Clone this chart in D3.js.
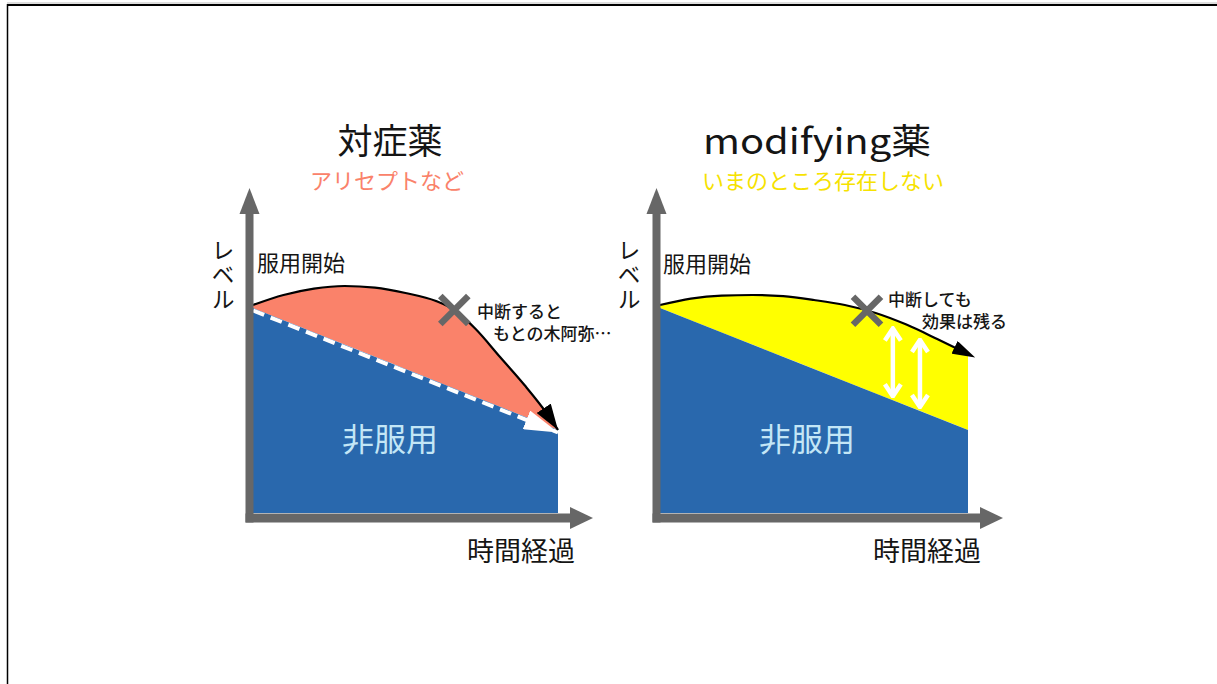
<!DOCTYPE html>
<html><head><meta charset="utf-8">
<script src="https://cdn.jsdelivr.net/npm/d3@7"></script>
<style>
html,body{margin:0;padding:0;background:#fff;}
svg{display:block;}
text{font-family:"Noto Sans CJK JP","Noto Sans",sans-serif;}
</style></head>
<body>
<svg id="chart" width="1217" height="684"></svg>
<script>
// ---------- data ----------
const panelTitles = ["対症薬", "modifying薬"];
const panelSubtitles = ["アリセプトなど", "いまのところ存在しない"];
const yAxisLabel = "レベル";
const xAxisLabel = "時間経過";
const startLabel = "服用開始";
const nonUseLabel = "非服用";

// natural course without treatment (level vs time)
const baselineT = [0, 10];
const baselineLevel = [10.25, 4.15];

// symptomatic drug: rises, then after interruption falls back to baseline
const symptomaticT = [0, 1, 2, 3, 4, 5, 6, 6.6, 7.3, 8.1, 8.9, 9.6, 10];
const symptomaticLevel = [10.4, 10.9, 11.22, 11.35, 11.27, 11.0, 10.6, 10.15, 9.2, 7.8, 6.4, 5.05, 4.15];

// disease-modifying drug: effect persists after interruption
const modifyingT = [0, 1, 2, 3, 4, 5, 6, 7, 8, 9, 10];
const modifyingLevel = [10.4, 10.72, 10.87, 10.9, 10.84, 10.65, 10.4, 10.0, 9.42, 8.7, 7.95];

const interruptT = [6.6, 6.72];
const interruptNotes = [["中断すると", "もとの木阿弥…"], ["中断しても", "効果は残る"]];
const effectArrowT = [7.56, 8.44];

// ---------- drawing ----------
const svg = d3.select("#chart");
const colors = {
  blue: "#2968ad", salmon: "#fa826a", yellow: "#ffff00",
  axis: "#676767", nonUse: "#c3e6f6", text: "#151515"
};

// page frame
svg.append("line").attr("x1", 7).attr("x2", 1217).attr("y1", 3).attr("y2", 3).attr("stroke", "#bbb").attr("stroke-width", 1);
svg.append("line").attr("x1", 7).attr("x2", 1217).attr("y1", 5).attr("y2", 5).attr("stroke", "#000").attr("stroke-width", 2);
svg.append("line").attr("x1", 7.5).attr("x2", 7.5).attr("y1", 4).attr("y2", 684).attr("stroke", "#000").attr("stroke-width", 1.5);

const defs = svg.append("defs");
function arrowMarker(id, color, len, wid, refX) {
  defs.append("marker").attr("id", id)
    .attr("viewBox", `0 0 ${len} ${wid}`)
    .attr("markerUnits", "userSpaceOnUse")
    .attr("markerWidth", len).attr("markerHeight", wid)
    .attr("refX", refX).attr("refY", wid / 2)
    .attr("orient", "auto")
    .append("path").attr("d", `M0,0L${len},${wid / 2}L0,${wid}Z`).attr("fill", color);
}
arrowMarker("blackTip", "#000", 26, 17, 26);
arrowMarker("blackOver", "#000", 23, 14, 15);
arrowMarker("whiteTip", "#fff", 34, 20, 34);
function dblMarker(id) {
  const m = defs.append("marker").attr("id", id)
    .attr("viewBox", "0 0 16 20").attr("markerUnits", "userSpaceOnUse")
    .attr("markerWidth", 16).attr("markerHeight", 20)
    .attr("refX", 14).attr("refY", 10).attr("orient", "auto-start-reverse");
  m.append("path").attr("d", "M2,2L14,10L2,18").attr("fill", "none").attr("stroke", "#fff").attr("stroke-width", 4.5).attr("stroke-linejoin", "miter");
}
dblMarker("dblHead");

const panels = [
  {
    x0: 253, x1: 558, axisX: 249.5,
    curveT: symptomaticT, curveLevel: symptomaticLevel, fill: colors.salmon,
    subColor: colors.salmon, titleX: 390, titleY: 138, subX: 387, subY: 179,
    titleSize: 35, subSize: 22, titleLen: null,
    marker: "blackTip", dashed: true,
    notePos: [[477, 310], [493, 332]],
    startPos: [257, 261], yLabX: 223, xLabX: 521, nonUseX: 390
  },
  {
    x0: 660, x1: 968, axisX: 656.5,
    curveT: modifyingT, curveLevel: modifyingLevel, fill: colors.yellow,
    subColor: "#f6e200", titleX: 817, titleY: 138, subX: 823, subY: 179,
    titleSize: 35, subSize: 22, titleLen: 228,
    marker: "blackOver", dashed: false,
    notePos: [[888, 298], [922, 320]],
    startPos: [663, 262], yLabX: 629, xLabX: 927, nonUseX: 807
  }
];

const yScale = d3.scaleLinear().domain([0, 12]).range([513, 273]);
const baseline = d3.scaleLinear().domain(baselineT).range(baselineLevel);

panels.forEach((p, i) => {
  const g = svg.append("g");
  const x = d3.scaleLinear().domain([0, 10]).range([p.x0, p.x1]);

  const pts = p.curveT.map((t, k) => ({ t, v: p.curveLevel[k] }));

  // drug effect area (between curve and natural course)
  const area = d3.area().curve(d3.curveMonotoneX)
    .x(d => x(d.t)).y0(d => yScale(baseline(d.t))).y1(d => yScale(d.v));
  g.append("path").datum(pts).attr("d", area).attr("fill", p.fill);

  // natural course (blue)
  const blueArea = d3.area().x(d => x(d)).y0(yScale(0)).y1(d => yScale(baseline(d)));
  g.append("path").datum(baselineT).attr("d", blueArea).attr("fill", colors.blue);

  // dashed white line (left only)
  if (p.dashed) {
    const dl = d3.line().x(d => x(d)).y(d => yScale(baseline(d)) + 2.5);
    g.append("path").datum(baselineT).attr("d", dl)
      .attr("fill", "none").attr("stroke", "#fff").attr("stroke-width", 4)
      .attr("stroke-dasharray", "12,7").attr("marker-end", "url(#whiteTip)");
  }

  // white double arrows (right only)
  if (!p.dashed) {
    const cv = d3.scaleLinear().domain(p.curveT).range(p.curveLevel);
    effectArrowT.forEach(t => {
      g.append("line")
        .attr("x1", x(t)).attr("x2", x(t))
        .attr("y1", yScale(cv(t)) + 9).attr("y2", yScale(baseline(t)) - 4)
        .attr("stroke", "#fff").attr("stroke-width", 4.5)
        .attr("marker-start", "url(#dblHead)").attr("marker-end", "url(#dblHead)");
    });
  }

  // curve line with arrow
  const line = d3.line().curve(d3.curveMonotoneX).x(d => x(d.t)).y(d => yScale(d.v));
  g.append("path").datum(pts).attr("d", line)
    .attr("fill", "none").attr("stroke", "#000").attr("stroke-width", 2.2)
    .attr("marker-end", `url(#${p.marker})`);

  // axes
  const ax = p.axisX;
  const yBottom = 522.5, yTop = 188, xEnd = p.x1 + 35;
  g.append("rect").attr("x", ax - 4).attr("y", 213).attr("width", 8).attr("height", yBottom - 213).attr("fill", colors.axis);
  g.append("path").attr("d", `M${ax - 10},214L${ax},${yTop}L${ax + 10},214Z`).attr("fill", colors.axis);
  g.append("rect").attr("x", ax - 4).attr("y", 513.5).attr("width", xEnd - 22 - (ax - 4)).attr("height", 9).attr("fill", colors.axis);
  g.append("path").attr("d", `M${xEnd - 23},507L${xEnd},518L${xEnd - 23},529Z`).attr("fill", colors.axis);

  // interruption X
  const cvi = d3.scaleLinear().domain(p.curveT).range(p.curveLevel);
  const cx = x(interruptT[i]), cy = yScale(cvi(interruptT[i]));
  const s = 14;
  g.append("path").attr("d", `M${cx - s},${cy - s}L${cx + s},${cy + s}M${cx - s},${cy + s}L${cx + s},${cy - s}`)
    .attr("stroke", colors.axis).attr("stroke-width", 6.5).attr("fill", "none");

  // texts
  const tt = g.append("text").attr("x", p.titleX).attr("y", p.titleY).attr("text-anchor", "middle")
    .attr("dominant-baseline", "central").attr("font-size", p.titleSize).attr("fill", colors.text)
    .text(panelTitles[i]);
  if (p.titleLen) tt.attr("textLength", p.titleLen).attr("lengthAdjust", "spacingAndGlyphs");
  g.append("text").attr("x", p.subX).attr("y", p.subY).attr("text-anchor", "middle")
    .attr("dominant-baseline", "central").attr("font-size", p.subSize).attr("fill", p.subColor)
    .text(panelSubtitles[i]);
  g.append("text").attr("x", p.yLabX).attr("y", 275.5)
    .style("writing-mode", "vertical-rl").attr("text-anchor", "middle")
    .attr("letter-spacing", 1.5)
    .attr("font-size", 23).attr("fill", colors.text).text(yAxisLabel);
  g.append("text").attr("x", p.startPos[0]).attr("y", p.startPos[1])
    .attr("dominant-baseline", "central").attr("font-size", 22).attr("fill", colors.text).text(startLabel);
  g.append("text").attr("x", p.xLabX).attr("y", 549).attr("text-anchor", "middle")
    .attr("dominant-baseline", "central").attr("font-size", 27).attr("fill", colors.text).text(xAxisLabel);
  g.append("text").attr("x", p.nonUseX).attr("y", 437).attr("text-anchor", "middle")
    .attr("dominant-baseline", "central").attr("font-size", 32).attr("fill", colors.nonUse).text(nonUseLabel);
  interruptNotes[i].forEach((t, k) => {
    g.append("text").attr("x", p.notePos[k][0]).attr("y", p.notePos[k][1])
      .attr("dominant-baseline", "central").attr("font-size", 17).attr("font-weight", 500)
      .attr("fill", colors.text).text(t);
  });
});
</script>
</body></html>
